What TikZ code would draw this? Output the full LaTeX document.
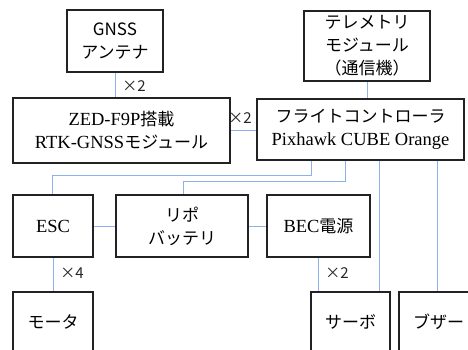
\documentclass[tikz,border=0pt]{standalone}
\usepackage{fontspec}
\setmainfont{Liberation Serif}
\newfontfamily\jp{Noto Sans CJK JP}
\definecolor{wirec}{HTML}{8EB0EC}
\definecolor{boxc}{HTML}{222222}
\newcommand\jpt[1]{{\jp\fontsize{17}{22}\selectfont #1}}
\begin{document}
\begin{tikzpicture}[x=1pt,y=-1pt,
  box/.style={draw=boxc,line width=1.6pt,fill=white,align=center,inner sep=0pt,
    font=\fontsize{18.5}{23}\selectfont},
  wire/.style={draw=wirec,line width=0.9pt},
  mult/.style={font=\jp\fontsize{15}{18}\selectfont,text=black!85,inner sep=0pt}]
\clip (0,0) rectangle (468,349);
\fill[white] (0,0) rectangle (468,349);
% bend points
\coordinate (escbend) at (52,175);
\coordinate (batbend) at (183,181);
% boxes
\node[box,minimum width=96pt,minimum height=62pt] (gnss) at (115,41) {\jpt{GNSS}\\\jpt{アンテナ}};
\node[box,minimum width=217pt,minimum height=65pt] (zed) at (121.5,130.5) {ZED-F9P\jpt{搭載}\\RTK-GNSS\jpt{モジュール}};
\node[box,minimum width=126pt,minimum height=70pt] (tele) at (367,46) {\jpt{テレメトリ}\\\jpt{モジュール}\\\jpt{（通信機）}};
\node[box,minimum width=207pt,minimum height=61pt] (fc) at (360.5,129.5) {\jpt{フライトコントローラ}\\Pixhawk CUBE Orange};
\node[box,minimum width=80pt,minimum height=62pt] (esc) at (53,226) {ESC};
\node[box,minimum width=132pt,minimum height=62pt] (bat) at (182,226) {\jpt{リポ}\\\jpt{バッテリ}};
\node[box,minimum width=103pt,minimum height=62pt] (bec) at (318.5,226) {BEC\jpt{電源}};
\node[box,minimum width=80pt,minimum height=60pt] (motor) at (53,322) {\jpt{モータ}};
\node[box,minimum width=79pt,minimum height=60pt] (servo) at (350.5,322) {\jpt{サーボ}};
\node[box,minimum width=79pt,minimum height=60pt] (buz) at (438.5,322) {\jpt{ブザー}};
% connectors
\draw[wire] (gnss.south) -- (gnss.south |- zed.north);
\draw[wire] (zed.east) -- (zed.east -| fc.west);
\draw[wire] (tele.south) -- (tele.south |- fc.north);
\draw[wire] (311,0 |- fc.south) |- (escbend) -- (escbend |- esc.north);
\draw[wire] (345,0 |- fc.south) |- (batbend) -- (batbend |- bat.north);
\draw[wire] (379,0 |- fc.south) -- (379,0 |- servo.north);
\draw[wire] (437,0 |- fc.south) -- (437,0 |- buz.north);
\draw[wire] (esc.east) -- (bat.west);
\draw[wire] (bat.east) -- (bec.west);
\draw[wire] (bec.south) -- (bec.south |- servo.north);
\draw[wire] (esc.south) -- (esc.south |- motor.north);
% multiplicity labels
\node[mult] (m1) at (134,86) {×2};
\node[mult] (m2) at (240,118) {×2};
\node[mult] (m3) at (72,273) {×4};
\node[mult] (m4) at (337,273) {×2};
\end{tikzpicture}
\end{document}
